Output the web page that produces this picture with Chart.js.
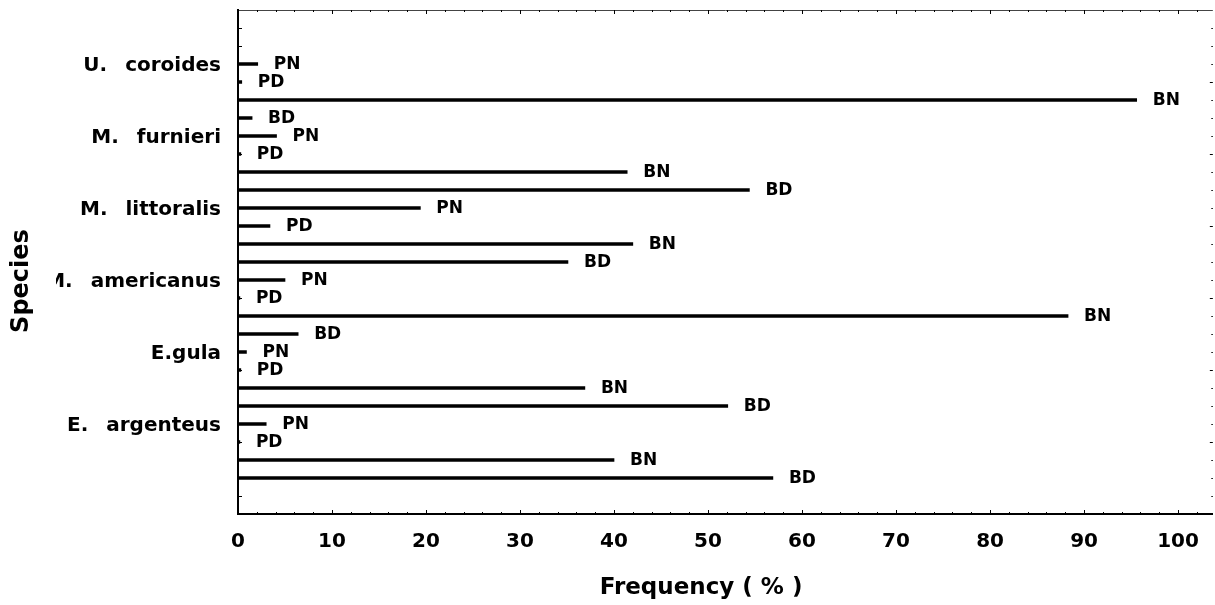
<!DOCTYPE html>
<html><head><meta charset="utf-8">
<script src="https://cdn.jsdelivr.net/npm/chart.js@4"></script>
<style>html,body{margin:0;padding:0;background:#fff}#wrap{width:1215px;height:605px}</style>
</head><body><div id="wrap"><canvas id="c" width="1215" height="605"></canvas></div>
<script>
// ---- data ----
const species = ['U. coroides', 'M. furnieri', 'M. littoralis', 'M. americanus', 'E.gula', 'E. argenteus'];
const barTypes = ['PN', 'PD', 'BN', 'BD'];
const PN = [2.1, 4.1, 19.4, 5.0, 0.9, 3.0];
const PD = [0.4, 0.3, 3.4, 0.2, 0.3, 0.2];
const BN = [95.6, 41.4, 42.0, 88.3, 36.9, 40.0];
const BD = [1.5, 54.4, 35.1, 6.4, 52.1, 56.9];
const xTicks = [0, 10, 20, 30, 40, 50, 60, 70, 80, 90, 100];
const xMax = 103.7;
const xTitle = 'Frequency ( % )';
const yTitle = 'Species';

// ---- build category slots (3 empty slots on top, 2 at bottom) ----
const slotLabels = [], values = [], types = [];
function emptySlot() { slotLabels.push(''); values.push(null); types.push(''); }
for (let i = 0; i < 3; i++) emptySlot();
species.forEach((s, i) => {
  [PN, PD, BN, BD].forEach((arr, j) => {
    slotLabels.push(j === 0 ? s : '');
    values.push(arr[i]);
    types.push(barTypes[j]);
  });
});
for (let i = 0; i < 2; i++) emptySlot();

Chart.defaults.font.family = '"DejaVu Sans", sans-serif';
Chart.defaults.color = '#000';

const decor = {
  id: 'decor',
  afterDatasetsDraw(chart) {
    const ctx = chart.ctx;
    const meta = chart.getDatasetMeta(0);
    ctx.save();
    ctx.fillStyle = '#000';
    ctx.textBaseline = 'middle';
    ctx.textAlign = 'left';
    ctx.font = 'bold 17px "DejaVu Sans"';
    meta.data.forEach((el, i) => {
      if (values[i] == null) return;
      ctx.fillText(types[i], el.x + 16, el.y + 1);
    });
    ctx.restore();
  },
  afterDraw(chart) {
    const ctx = chart.ctx;
    const a = chart.chartArea;
    const xs = chart.scales.x, ys = chart.scales.y;
    ctx.save();
    // top border
    ctx.strokeStyle = '#444';
    ctx.lineWidth = 1;
    ctx.beginPath();
    ctx.moveTo(a.left, a.top + 0.5);
    ctx.lineTo(a.right, a.top + 0.5);
    ctx.stroke();
    // x ticks (bottom up, top down)
    ctx.strokeStyle = '#000';
    for (let v = 0; v <= xMax; v += 2) {
      const px = Math.round(xs.getPixelForValue(v)) + 0.5;
      const len = v % 10 === 0 ? 4 : 2;
      ctx.beginPath();
      ctx.moveTo(px, a.bottom);
      ctx.lineTo(px, a.bottom - len);
      ctx.moveTo(px, a.top);
      ctx.lineTo(px, a.top + len);
      ctx.stroke();
    }
    // y ticks left and right
    for (let k = 1; k < slotLabels.length - 1; k++) {
      const py = Math.round(ys.getPixelForValue(k)) + 0.5;
      ctx.beginPath();
      ctx.moveTo(a.left, py);
      ctx.lineTo(a.left + 4, py);
      ctx.stroke();
      const rl = k % 4 === 0 ? 3 : 1.5;
      ctx.beginPath();
      ctx.moveTo(a.right, py);
      ctx.lineTo(a.right - rl, py);
      ctx.stroke();
    }
    // species (category) labels, clipped on the left like the original
    ctx.save();
    ctx.beginPath();
    ctx.rect(56, 0, a.left - 56, chart.height);
    ctx.clip();
    ctx.fillStyle = '#000';
    ctx.textAlign = 'right';
    ctx.textBaseline = 'middle';
    ctx.font = 'bold 20px "DejaVu Sans"';
    try { ctx.wordSpacing = '11px'; } catch (e) {}
    slotLabels.forEach((lab, k) => {
      if (!lab) return;
      ctx.fillText(lab, a.left - 17, ys.getPixelForValue(k) + 2);
    });
    ctx.restore();
    // axis titles
    ctx.fillStyle = '#000';
    ctx.textAlign = 'center';
    ctx.textBaseline = 'middle';
    ctx.font = 'bold 23px "DejaVu Sans"';
    ctx.fillText(xTitle, a.left + (a.right - a.left) * 0.475, 588);
    ctx.translate(22, 281);
    ctx.rotate(-Math.PI / 2);
    ctx.font = 'bold 24px "DejaVu Sans"';
    ctx.fillText(yTitle, 0, 0);
    ctx.restore();
  }
};

new Chart(document.getElementById('c'), {
  type: 'bar',
  data: {
    labels: slotLabels,
    datasets: [{
      data: values,
      backgroundColor: '#000',
      borderWidth: 0,
      barThickness: 3
    }]
  },
  options: {
    indexAxis: 'y',
    responsive: false,
    devicePixelRatio: 1,
    animation: false,
    layout: { padding: { top: 10, right: 2, left: 0, bottom: 0 } },
    plugins: { legend: { display: false }, tooltip: { enabled: false } },
    scales: {
      x: {
        type: 'linear',
        min: 0,
        max: xMax,
        afterBuildTicks: s => { s.ticks = xTicks.map(v => ({ value: v })); },
        afterFit: s => { s.height = 91; },
        grid: { display: false, drawTicks: false },
        border: { display: true, color: '#000', width: 2 },
        ticks: { font: { size: 20, weight: 'bold' }, padding: 16, maxRotation: 0, autoSkip: false, color: '#000' },
        title: { display: false }
      },
      y: {
        type: 'category',
        offset: false,
        afterFit: s => { s.width = 238; s.paddingTop = 0; s.paddingBottom = 0; },
        grid: { display: false, drawTicks: false },
        border: { display: true, color: '#000', width: 2 },
        ticks: { display: false, autoSkip: false },
        title: { display: false }
      }
    }
  },
  plugins: [decor]
});
</script>
</body></html>
